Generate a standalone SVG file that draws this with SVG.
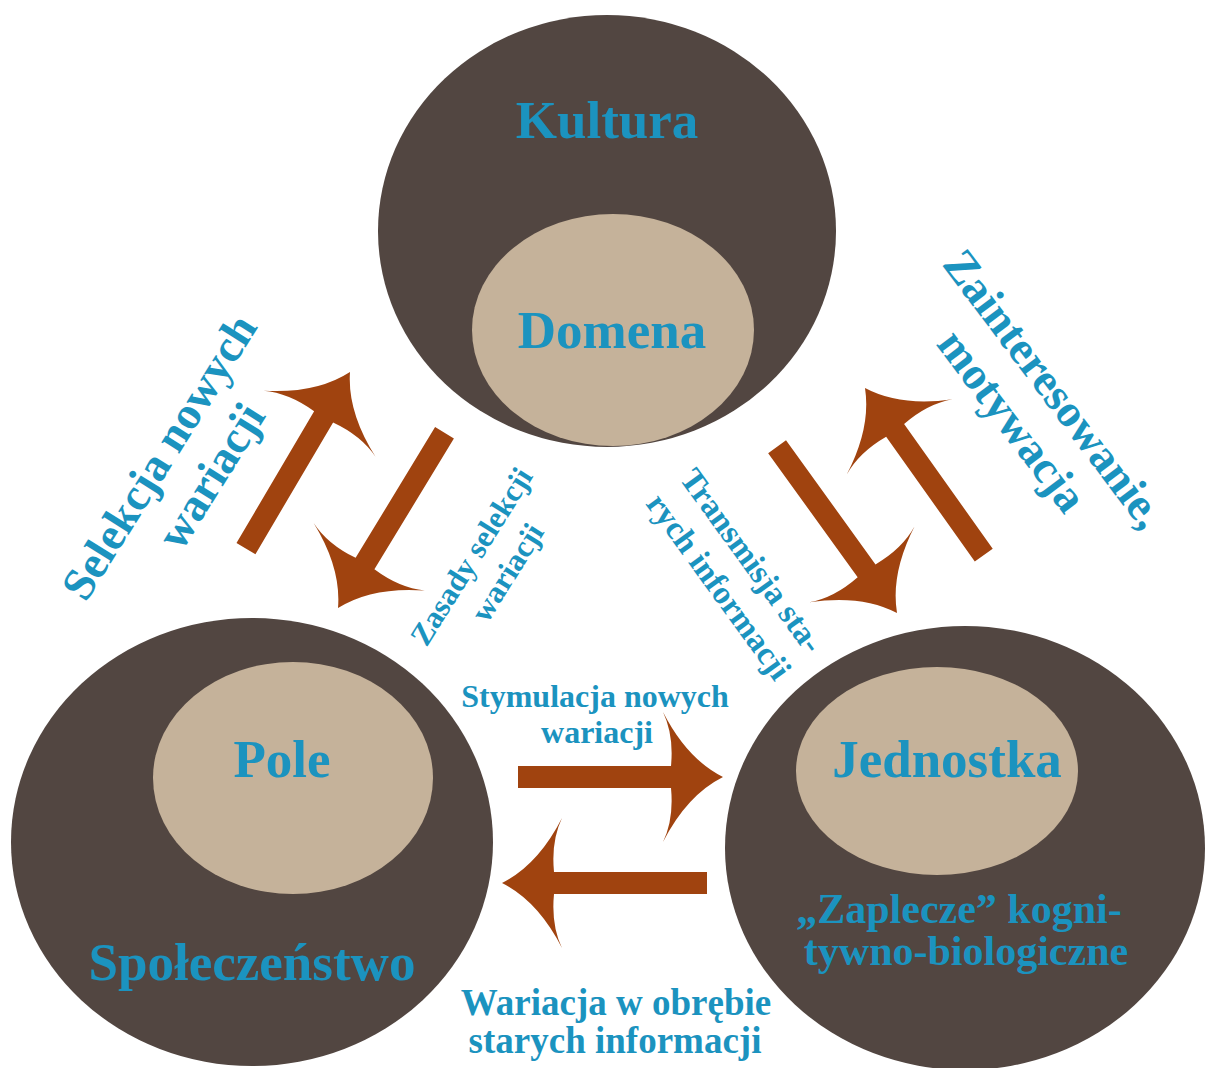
<svg xmlns="http://www.w3.org/2000/svg" xmlns:xlink="http://www.w3.org/1999/xlink" width="1205" height="1068" viewBox="0 0 1205 1068">
<style>
.outer{fill:#524641}
.inner{fill:#c5b29a}
.t{font-family:"Liberation Serif","Times New Roman",serif;font-weight:bold;fill:#1b93bf;text-anchor:middle}
.big{font-size:53px}
.arr{fill:#a0430f}
</style>
<defs>
<path id="arrow" d="M -205,-11 L -52,-11 Q -49,-42 -60,-65 Q -36,-18 0,0 Q -36,18 -60,65 Q -49,42 -52,11 L -205,11 Z"/>
</defs>
<rect width="1205" height="1068" fill="#ffffff"/>
<g id="node-kultura">
<ellipse class="outer" cx="607" cy="231" rx="229" ry="216"/>
<ellipse class="inner" cx="613" cy="330" rx="141" ry="116"/>
<text class="t big" x="607" y="138">Kultura</text>
<text class="t big" x="612" y="348">Domena</text>
</g>
<g id="node-spoleczenstwo">
<ellipse class="outer" cx="252" cy="842" rx="241" ry="224"/>
<ellipse class="inner" cx="293" cy="778" rx="140" ry="116"/>
<text class="t big" x="282" y="777">Pole</text>
<text class="t big" x="252" y="980">Społeczeństwo</text>
</g>
<g id="node-jednostka">
<ellipse class="outer" cx="965" cy="848" rx="240" ry="222"/>
<ellipse class="inner" cx="937" cy="771" rx="141" ry="104"/>
<text class="t big" x="947" y="777">Jednostka</text>
<text class="t" font-size="42" x="959" y="923">„Zaplecze” kogni-</text>
<text class="t" font-size="42" x="966" y="965">tywno-biologiczne</text>
</g>
<g id="connectors" class="arr">
<use xlink:href="#arrow" href="#arrow" transform="translate(723,777)"/>
<use xlink:href="#arrow" href="#arrow" transform="translate(502,883) rotate(180)"/>
<use xlink:href="#arrow" href="#arrow" transform="translate(350,372) rotate(-59.5)"/>
<use xlink:href="#arrow" href="#arrow" transform="translate(338,608) rotate(121.3)"/>
<use xlink:href="#arrow" href="#arrow" transform="translate(897,613) rotate(54.2)"/>
<use xlink:href="#arrow" href="#arrow" transform="translate(865,388) rotate(-125.4)"/>
</g>
<g id="labels">
<text class="t" font-size="32" x="595" y="707">Stymulacja nowych</text>
<text class="t" font-size="32" x="597" y="743">wariacji</text>
<text class="t" font-size="37" x="616" y="1015">Wariacja w obrębie</text>
<text class="t" font-size="37" x="615" y="1053">starych informacji</text>
<text class="t" font-size="46" transform="translate(172,465) rotate(-58)">Selekcja nowych</text>
<text class="t" font-size="46" transform="translate(224,484) rotate(-58)">wariacji</text>
<text class="t" font-size="31" transform="translate(480,562) rotate(-58)">Zasady selekcji</text>
<text class="t" font-size="31" transform="translate(516,578) rotate(-58)">wariacji</text>
<text class="t" font-size="33" transform="translate(743,567) rotate(54)">Transmisja sta-</text>
<text class="t" font-size="33" transform="translate(710,593) rotate(54)">rych informacji</text>
<text class="t" font-size="46" transform="translate(1042,398) rotate(53)">Zainteresowanie,</text>
<text class="t" font-size="46" transform="translate(1000,430) rotate(53)">motywacja</text>
</g>
</svg>
